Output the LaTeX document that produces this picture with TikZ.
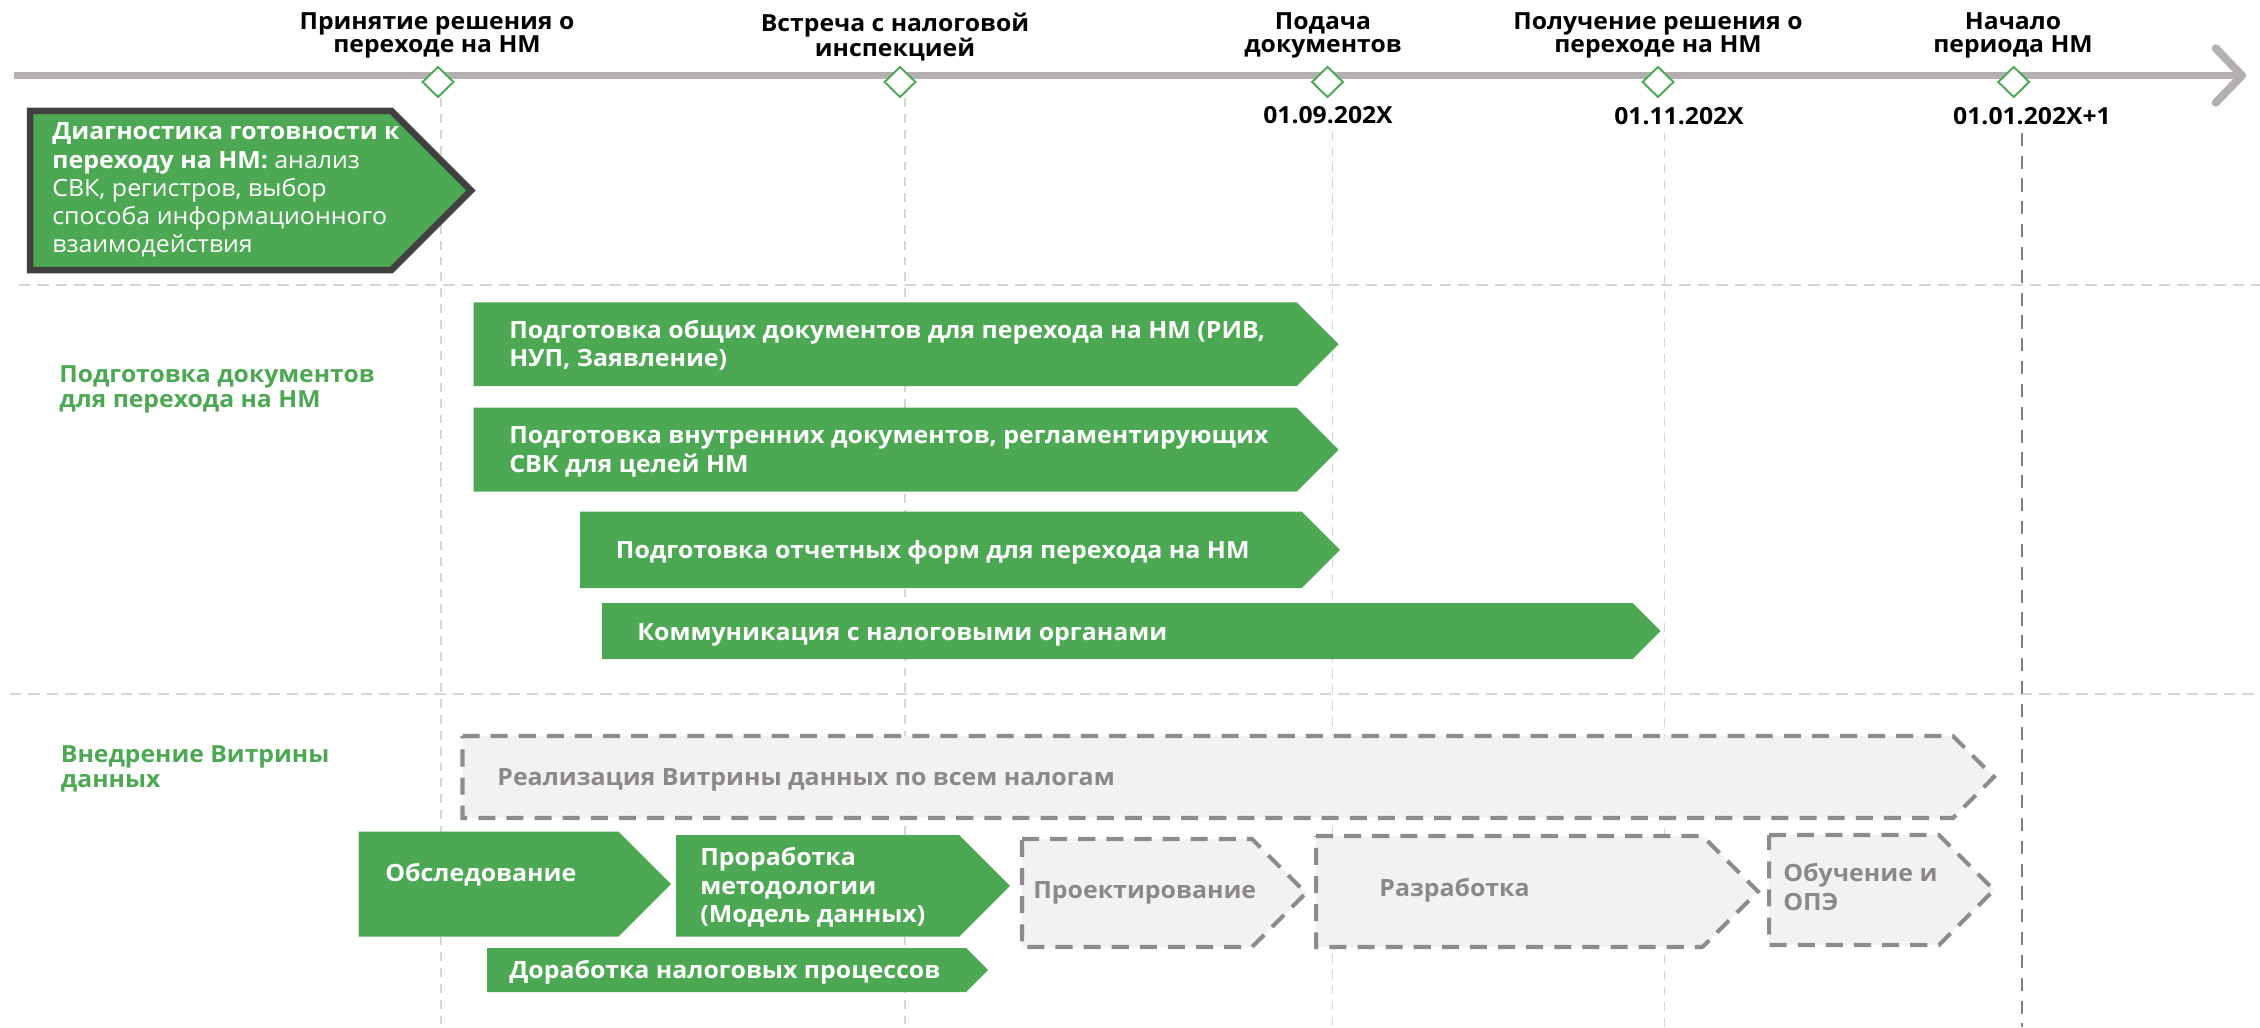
\documentclass[tikz,border=0pt]{standalone}
\usepackage{fontspec}
\setmainfont{Open Sans}[FakeStretch=1.05]
\usetikzlibrary{arrows.meta,shapes.geometric}

\definecolor{nmgreen}{RGB}{76,168,82}
\definecolor{axisgray}{RGB}{180,176,177}
\definecolor{guidegray}{RGB}{214,214,214}
\definecolor{guidedark}{RGB}{128,128,128}
\definecolor{edgedark}{RGB}{64,64,64}
\definecolor{dashgray}{RGB}{143,138,139}
\definecolor{softgray}{RGB}{242,242,242}
\definecolor{stagegray}{RGB}{140,135,137}

% pentagon bar: style, x1, y1, x2 (tip), y2
\newcommand{\stagebar}[5]{%
  \pgfmathsetmacro{\tipx}{#4-(#5-#3)/2}%
  \pgfmathsetmacro{\midy}{(#3+#5)/2}%
  \draw[#1] (#2,#3) -- (\tipx,#3) -- (#4,\midy) -- (\tipx,#5) -- (#2,#5) -- cycle;}

\tikzset{
  mlabel/.style={inner sep=0pt, anchor=base, align=center, font=\fontsize{13.4}{13.3}\selectfont\bfseries},
  mdate/.style={inner sep=0pt, anchor=base, font=\fontsize{13.4}{13.3}\selectfont\bfseries},
  mstone/.style={diamond, draw=nmgreen, fill=white, line width=1.1pt, minimum width=18pt, minimum height=17.6pt, inner sep=0pt},
  guide/.style={guidegray, line width=0.85pt, dash pattern=on 5pt off 4pt},
  guidestrong/.style={guidedark, line width=1.1pt, dash pattern=on 7.5pt off 5.5pt},
  sep/.style={guidegray, line width=0.85pt, dash pattern=on 6.5pt off 4pt},
  greenbar/.style={fill=nmgreen, draw=none},
  diagbar/.style={fill=nmgreen, draw=edgedark, line width=3.7pt},
  plannedbar/.style={fill=softgray, draw=dashgray, line width=2.3pt, dash pattern=on 9.7pt off 6.3pt},
  bartext/.style={inner sep=0pt, anchor=base west, align=left, text=white, font=\fontsize{13.5}{16.2}\selectfont\bfseries},
  diagtext/.style={inner sep=0pt, anchor=base west, align=left, text=white, font=\fontsize{13.5}{16.1}\selectfont},
  plannedtext/.style={bartext, text=stagegray},
  sectext/.style={inner sep=0pt, anchor=base west, align=left, text=nmgreen, font=\fontsize{13.4}{14.2}\selectfont\bfseries},
}

\begin{document}
\begin{tikzpicture}[x=0.02cm,y=-0.02cm]
\useasboundingbox (0,0) rectangle (2260,1027);

%%%%%%%%%%%%%%%%%% Section separators %%%%%%%%%%%%%%%%%%
\draw[sep] (19,285) -- (2260,285);
\draw[sep] (10,694) -- (2260,694);

%%%%%%%%%%%%%%%%%% Time axis %%%%%%%%%%%%%%%%%%
\coordinate (t0) at (14,75.5);
\coordinate (t1) at (2246,75.5);
\draw[axisgray, line width=4.55pt, -{Straight Barb[length=15pt,width=31pt,round]}] (t0) -- (t1);

%%%%%%%%%%%%%%%%%% Milestones %%%%%%%%%%%%%%%%%%
\node[mstone] (ms1) at (438,82) {};
\node[mstone] (ms2) at (900,82) {};
\node[mstone] (ms3) at (1327.5,82) {};
\node[mstone] (ms4) at (1658,82) {};
\node[mstone] (ms5) at (2013.7,82) {};

% anchor=base sits on the last line
\node[mlabel] (lab1) at (437,53) {Принятие решения о\\переходе на НМ};
\node[mlabel] (lab2) at (895,57) {Встреча с налоговой\\инспекцией};
\node[mlabel] (lab3) at (1323,53) {Подача\\документов};
\node[mlabel] (lab4) at (1658,53) {Получение решения о\\переходе на НМ};
\node[mlabel] (lab5) at (2013,53) {Начало\\периода НМ};

\node[mdate] (d3) at (1328,124) {01.09.202X};
\node[mdate] (d4) at (1679,125) {01.11.202X};
\node[mdate] (d5) at (2032,125) {01.01.202X+1};

%%%%%%%%%%%%%%%%%% Guide lines %%%%%%%%%%%%%%%%%%
\coordinate (b1) at (441,1027);
\coordinate (b2) at (905,1027);
\coordinate (b3) at (1332.5,1027);
\coordinate (b4) at (1664.5,1027);
\coordinate (b5) at (2022,1027);
\draw[guide] (b1 |- ms1.south) -- (b1);
\draw[guide] (b2 |- ms2.south) -- (b2);
\draw[guide] ([yshift=-4pt]b3 |- d3.south) -- (b3);
\draw[guide] ([yshift=-4pt]b4 |- d4.south) -- (b4);
\draw[guidestrong] ([yshift=-4pt]b5 |- d5.south) -- (b5);

%%%%%%%%%%%%%%%%%% Diagnostics %%%%%%%%%%%%%%%%%%
\stagebar{diagbar}{30}{111}{471}{270}
\node[diagtext] (diag) at (52,253) {{\bfseries Диагностика готовности к}\\{\bfseries переходу на НМ:} анализ\\СВК, регистров, выбор\\способа информационного\\взаимодействия};

%%%%%%%%%%%%%%%%%% Documents %%%%%%%%%%%%%%%%%%
\node[sectext] (secdocs) at (59,407) {Подготовка документов\\для перехода на НМ};
\stagebar{greenbar}{473.6}{302.3}{1338.6}{386}
\node[bartext] (docsA) at (509,366.7) {Подготовка общих документов для перехода на НМ (РИВ,\\НУП, Заявление)};
\stagebar{greenbar}{473.6}{407.7}{1338.6}{491.7}
\node[bartext] (docsB) at (509,472) {Подготовка внутренних документов, регламентирующих\\СВК для целей НМ};
\stagebar{greenbar}{580}{511.7}{1340}{588}
\node[bartext] (docsC) at (615.6,558) {Подготовка отчетных форм для перехода на НМ};
\stagebar{greenbar}{602}{603}{1660.6}{659}
\node[bartext] (docsD) at (637,640) {Коммуникация с налоговыми органами};

%%%%%%%%%%%%%%%%%% Data mart %%%%%%%%%%%%%%%%%%
\node[sectext] (secmart) at (60.6,787) {Внедрение Витрины\\данных};
\stagebar{plannedbar}{462.5}{736}{1994}{818}
\node[plannedtext] (martall) at (497,785) {Реализация Витрины данных по всем налогам};

\stagebar{greenbar}{358.7}{831.7}{671}{936.7}
\node[bartext] (survey) at (385,881.7) {Обследование};
\stagebar{greenbar}{676}{835}{1010}{936.7}
\node[bartext] (method) at (700,922.7) {Проработка\\методологии\\(Модель данных)};
\stagebar{greenbar}{487}{948}{988}{992}
\node[bartext] (process) at (509,978) {Доработка налоговых процессов};

\stagebar{plannedbar}{1022}{839}{1306}{947}
\node[plannedtext] (design) at (1033,898) {Проектирование};
\stagebar{plannedbar}{1316}{836}{1758}{947}
\node[plannedtext] (develop) at (1379,896.7) {Разработка};
\stagebar{plannedbar}{1769}{835}{1994}{945}
\node[plannedtext] (training) at (1783,910) {Обучение и\\ОПЭ};

\end{tikzpicture}
\end{document}
